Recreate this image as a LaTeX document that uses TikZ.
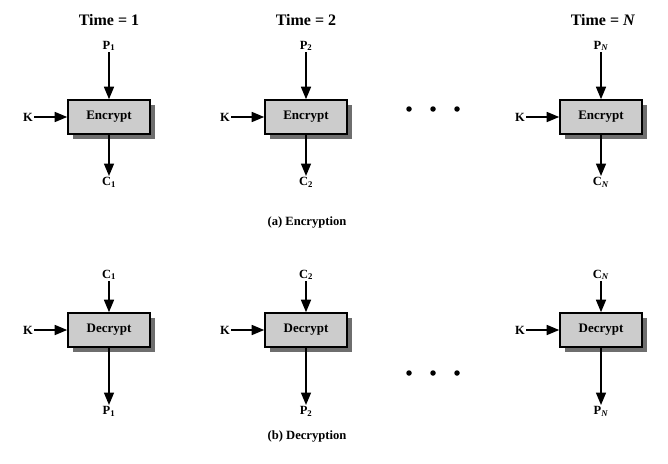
\documentclass[tikz,border=0pt]{standalone}
\usepackage{fontspec}
\setmainfont{Liberation Serif}
\usetikzlibrary{arrows.meta,shadows}
\definecolor{boxfill}{RGB}{204,204,204}
\definecolor{shadowgray}{RGB}{110,110,110}
\tikzset{
  x=1pt,y=-1pt,
  cbox/.style={draw=black,line width=1.6pt,fill=boxfill,minimum width=82pt,minimum height=34pt,inner sep=0pt,
    font=\fontsize{13}{15}\selectfont\bfseries,
    drop shadow={shadow xshift=5pt,shadow yshift=-5pt,fill=shadowgray,opacity=1}},
  lbl/.style={font=\fontsize{12.5}{14}\selectfont\bfseries,inner sep=1pt},
  ttl/.style={font=\fontsize{16}{18}\selectfont\bfseries,inner sep=0pt},
  captext/.style={font=\fontsize{12.6}{14}\selectfont\bfseries,inner sep=0pt},
  arr/.style={line width=1.6pt,-{Triangle[length=12.5pt,width=10pt]}},
  bigdot/.style={circle,fill=black,inner sep=0pt,minimum size=5.5pt}
}
\begin{document}
\begin{tikzpicture}
\useasboundingbox (0,0) rectangle (668,463);
\foreach \i/\x/\s in {1/109/1,2/306/2,3/601/\textit{N}}{
  % encryption
  \node[cbox] (e\i) at (\x,117) {Encrypt};
  \node[lbl,anchor=south] (p\i) at (\x,52) {P\textsubscript{\s}};
  \node[lbl,anchor=north] (c\i) at (\x,176) {C\textsubscript{\s}};
  \node[lbl,anchor=east] (ke\i) at (\x-75,117) {K};
  \draw[arr] (p\i.south) -- (e\i.north);
  \draw[arr] (e\i.south) -- (c\i.north);
  \draw[arr] (ke\i.east) -- (e\i.west);
  % decryption
  \node[cbox] (d\i) at (\x,330) {Decrypt};
  \node[lbl,anchor=south] (dc\i) at (\x,281) {C\textsubscript{\s}};
  \node[lbl,anchor=north] (dp\i) at (\x,405) {P\textsubscript{\s}};
  \node[lbl,anchor=east] (kd\i) at (\x-75,330) {K};
  \draw[arr] (dc\i.south) -- (d\i.north);
  \draw[arr] (d\i.south) -- (dp\i.north);
  \draw[arr] (kd\i.east) -- (d\i.west);
}
\node[ttl] (t1) at (109,20) {Time = 1};
\node[ttl] (t2) at (306,20) {Time = 2};
\node[ttl] (t3) at (603,20) {Time = \textit{N}};
\foreach \j/\dx in {1/409,2/433,3/457}{
  \node[bigdot] (ud\j) at (\dx,109) {};
  \node[bigdot] (ld\j) at (\dx,373) {};
}
\node[captext] (capa) at (307,222) {(a) Encryption};
\node[captext] (capb) at (307,436) {(b) Decryption};
\end{tikzpicture}
\end{document}
